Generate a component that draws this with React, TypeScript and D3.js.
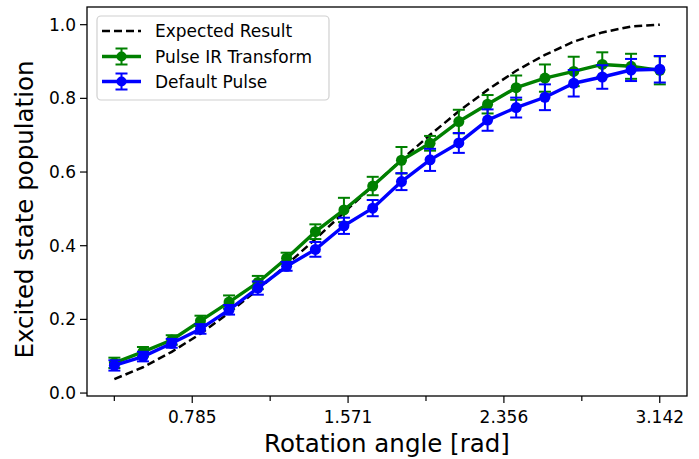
import * as React from 'react';
import {useEffect, useRef} from 'react';
import * as d3 from 'd3';

// rotation angles (20 points from pi/8 to pi)
const angles = [0.393, 0.537, 0.682, 0.827, 0.971, 1.116, 1.261, 1.406, 1.550, 1.695,
    1.840, 1.984, 2.129, 2.274, 2.418, 2.563, 2.708, 2.852, 2.997, 3.142];

const expected = [0.038, 0.070, 0.112, 0.161, 0.218, 0.281, 0.348, 0.418, 0.490, 0.562,
    0.633, 0.701, 0.765, 0.823, 0.875, 0.918, 0.954, 0.979, 0.995, 1.000];

const irValues = [0.082, 0.112, 0.144, 0.196, 0.247, 0.300, 0.366, 0.438, 0.497, 0.562,
    0.632, 0.678, 0.737, 0.784, 0.829, 0.855, 0.873, 0.892, 0.887, 0.876];
const irErrors = [0.014, 0.013, 0.013, 0.014, 0.018, 0.018, 0.015, 0.020, 0.033, 0.025,
    0.036, 0.020, 0.032, 0.025, 0.033, 0.037, 0.040, 0.033, 0.034, 0.038];

const defaultValues = [0.075, 0.099, 0.135, 0.174, 0.226, 0.285, 0.344, 0.390, 0.454, 0.502,
    0.574, 0.633, 0.679, 0.741, 0.775, 0.803, 0.841, 0.858, 0.877, 0.879];
const defaultErrors = [0.014, 0.013, 0.012, 0.013, 0.013, 0.018, 0.012, 0.020, 0.022, 0.022,
    0.023, 0.030, 0.027, 0.029, 0.027, 0.035, 0.036, 0.032, 0.030, 0.036];

const xTicks = [0.3927, 0.7854, 1.1781, 1.5708, 1.9635, 2.3562, 2.7489, 3.1416];
const xTickLabels = ['', '0.785', '', '1.571', '', '2.356', '', '3.142'];
const yTicks = [0.0, 0.2, 0.4, 0.6, 0.8, 1.0];

const legendLabels = ['Expected Result', 'Pulse IR Transform', 'Default Pulse'];

const WIDTH = 699;
const HEIGHT = 459;
const FONT = '"DejaVu Sans", sans-serif';

export default function App() {
    const ref = useRef<SVGSVGElement>(null);

    useEffect(() => {
        const svg = d3.select(ref.current);
        svg.selectAll('*').remove();

        const margin = {left: 87, right: 12, top: 7, bottom: 63};

        const x = d3.scaleLinear()
            .domain([0.255, 3.279])
            .range([margin.left, WIDTH - margin.right]);
        const y = d3.scaleLinear()
            .domain([-0.008, 1.048])
            .range([HEIGHT - margin.bottom, margin.top]);

        const series = [
            {values: irValues, errors: irErrors, color: '#008000'},
            {values: defaultValues, errors: defaultErrors, color: '#0000ff'},
        ];

        // expected curve
        const line = d3.line<number>()
            .x((d, i) => x(angles[i]))
            .y(d => y(d));

        svg.append('path')
            .datum(expected)
            .attr('d', line)
            .attr('fill', 'none')
            .attr('stroke', '#000')
            .attr('stroke-width', 2.5)
            .attr('stroke-dasharray', '8,4');

        series.forEach(s => {
            const g = svg.append('g');
            const bars = g.selectAll('.bar')
                .data(s.values)
                .enter()
                .append('g');
            bars.append('line')
                .attr('x1', (d, i) => x(angles[i]))
                .attr('x2', (d, i) => x(angles[i]))
                .attr('y1', (d, i) => y(d - s.errors[i]))
                .attr('y2', (d, i) => y(d + s.errors[i]))
                .attr('stroke', s.color)
                .attr('stroke-width', 2);
            [-1, 1].forEach(sign => {
                bars.append('line')
                    .attr('x1', (d, i) => x(angles[i]) - 6)
                    .attr('x2', (d, i) => x(angles[i]) + 6)
                    .attr('y1', (d, i) => y(d + sign * s.errors[i]))
                    .attr('y2', (d, i) => y(d + sign * s.errors[i]))
                    .attr('stroke', s.color)
                    .attr('stroke-width', 2);
            });
            g.append('path')
                .datum(s.values)
                .attr('d', line)
                .attr('fill', 'none')
                .attr('stroke', s.color)
                .attr('stroke-width', 3.4)
                .attr('stroke-linejoin', 'round');
            g.selectAll('circle')
                .data(s.values)
                .enter()
                .append('circle')
                .attr('cx', (d, i) => x(angles[i]))
                .attr('cy', d => y(d))
                .attr('r', 5.5)
                .attr('fill', s.color);
        });

        // frame
        svg.append('rect')
            .attr('x', margin.left)
            .attr('y', margin.top)
            .attr('width', WIDTH - margin.left - margin.right)
            .attr('height', HEIGHT - margin.top - margin.bottom)
            .attr('fill', 'none')
            .attr('stroke', '#000')
            .attr('stroke-width', 1.3);

        // x ticks
        const bottom = HEIGHT - margin.bottom;
        xTicks.forEach((t, i) => {
            const major = xTickLabels[i] !== '';
            svg.append('line')
                .attr('x1', x(t)).attr('x2', x(t))
                .attr('y1', bottom).attr('y2', bottom + (major ? 7 : 5))
                .attr('stroke', '#000')
                .attr('stroke-width', 1.2);
            if (major) {
                svg.append('text')
                    .attr('x', x(t))
                    .attr('y', 423)
                    .attr('text-anchor', 'middle')
                    .attr('font-family', FONT)
                    .attr('font-size', 17)
                    .text(xTickLabels[i]);
            }
        });

        // y ticks
        yTicks.forEach(t => {
            svg.append('line')
                .attr('x1', margin.left - 7).attr('x2', margin.left)
                .attr('y1', y(t)).attr('y2', y(t))
                .attr('stroke', '#000')
                .attr('stroke-width', 1.2);
            svg.append('text')
                .attr('x', 76)
                .attr('y', y(t) + 6)
                .attr('text-anchor', 'end')
                .attr('font-family', FONT)
                .attr('font-size', 17)
                .text(t.toFixed(1));
        });

        svg.append('text')
            .attr('x', (margin.left + WIDTH - margin.right) / 2)
            .attr('y', 452)
            .attr('text-anchor', 'middle')
            .attr('font-family', FONT)
            .attr('font-size', 24.5)
            .text('Rotation angle [rad]');

        svg.append('text')
            .attr('transform', `translate(33, ${(margin.top + bottom) / 2 + 8}) rotate(-90)`)
            .attr('text-anchor', 'middle')
            .attr('font-family', FONT)
            .attr('font-size', 24.5)
            .text('Excited state population');

        // legend
        const legend = svg.append('g');
        legend.append('rect')
            .attr('x', 97).attr('y', 16)
            .attr('width', 232).attr('height', 84)
            .attr('rx', 4)
            .attr('fill', '#fff')
            .attr('fill-opacity', 0.8)
            .attr('stroke', '#d0d0d0')
            .attr('stroke-width', 1.2);

        const rows = [31, 56.5, 81.5];
        legend.append('line')
            .attr('x1', 102).attr('x2', 141)
            .attr('y1', rows[0]).attr('y2', rows[0])
            .attr('stroke', '#000')
            .attr('stroke-width', 2.5)
            .attr('stroke-dasharray', '8,4');
        series.forEach((s, k) => {
            const cy = rows[k + 1];
            legend.append('line')
                .attr('x1', 102).attr('x2', 141)
                .attr('y1', cy).attr('y2', cy)
                .attr('stroke', s.color).attr('stroke-width', 3.4);
            legend.append('line')
                .attr('x1', 121.5).attr('x2', 121.5)
                .attr('y1', cy - 8).attr('y2', cy + 8)
                .attr('stroke', s.color).attr('stroke-width', 2);
            [-8, 8].forEach(dy => {
                legend.append('line')
                    .attr('x1', 115.5).attr('x2', 127.5)
                    .attr('y1', cy + dy).attr('y2', cy + dy)
                    .attr('stroke', s.color).attr('stroke-width', 2);
            });
            legend.append('circle')
                .attr('cx', 121.5).attr('cy', cy)
                .attr('r', 5)
                .attr('fill', s.color);
        });
        legendLabels.forEach((label, k) => {
            legend.append('text')
                .attr('x', 155)
                .attr('y', rows[k] + 6)
                .attr('font-family', FONT)
                .attr('font-size', 17)
                .text(label);
        });
    }, []);

    return (
        <div style={{position: 'absolute', left: 0, top: 0}}>
            <svg ref={ref} width={WIDTH} height={HEIGHT} style={{display: 'block', background: '#fff'}} />
        </div>
    );
}
